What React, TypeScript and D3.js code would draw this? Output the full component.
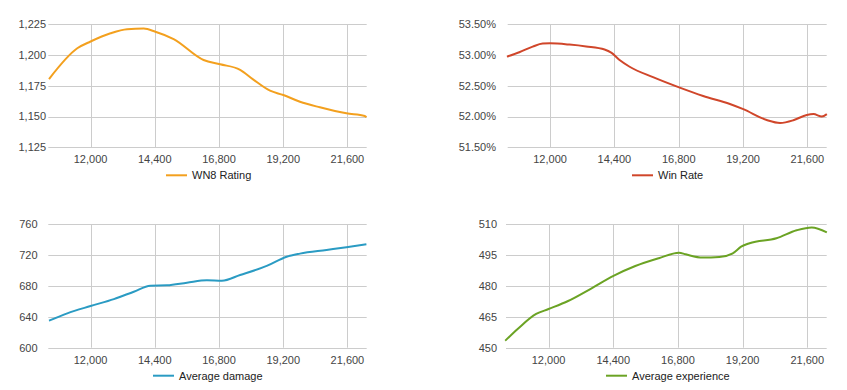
import { useEffect, useRef } from "react";
import * as d3 from "d3";

// battles (x) and values
const wn8X = [10447, 11503, 12000, 12745, 13366, 13987, 14422, 15105, 16223, 16844, 17589, 18086, 18707, 19204, 19825, 20570, 21563, 22247, 22309];
const wn8Y = [1180.5, 1205.5, 1211, 1217.7, 1221, 1221.5, 1219, 1213, 1196, 1192.5, 1188, 1180, 1171, 1167.5, 1162, 1157.5, 1152.6, 1150.5, 1149.5];

const winX = [10391, 10853, 11352, 11726, 12000, 12723, 13347, 14033, 14282, 14594, 14968, 15841, 16838, 17711, 18709, 19208, 20081, 20580, 21078, 21577, 21826, 22138, 22325];
const winY = [52.974, 53.045, 53.137, 53.186, 53.19, 53.17, 53.14, 53.09, 53.04, 52.92, 52.81, 52.64, 52.47, 52.335, 52.205, 52.12, 51.944, 51.896, 51.94, 52.026, 52.04, 52.0, 52.04];

const dmgX = [10447, 11130, 12000, 12870, 13615, 14236, 14857, 15602, 16347, 16906, 17589, 18583, 19328, 19825, 20819, 21563, 22309];
const dmgY = [635, 644.5, 654, 663, 672.6, 680.4, 680.9, 684.3, 687.4, 686.9, 694.3, 706, 718, 722, 726.7, 730.2, 734];

const expX = [10391, 10853, 11539, 12000, 12723, 13596, 14407, 15218, 16091, 16839, 17088, 17711, 18335, 18834, 19145, 19457, 20455, 21203, 21764, 22325];
const expY = [453.4, 459.1, 466.4, 468.8, 472.7, 478.9, 484.9, 489.7, 493.5, 496.2, 495.4, 493.8, 494.1, 495.9, 499.1, 500.8, 503.2, 507.1, 508.5, 506.1];

const xTicks = [12000, 14400, 16800, 19200, 21600];
const wn8Ticks = [1125, 1150, 1175, 1200, 1225];
const winTicks = [51.5, 52, 52.5, 53, 53.5];
const dmgTicks = [600, 640, 680, 720, 760];
const expTicks = [450, 465, 480, 495, 510];

const panels = [
  { name: "WN8 Rating", xs: wn8X, ys: wn8Y, ticks: wn8Ticks, fmt: d3.format(","), color: "#f3a01e",
    left: 48.3, right: 366.7, top: 24.3, bottom: 147.3, labelRight: 46, legendX: 166 },
  { name: "Win Rate", xs: winX, ys: winY, ticks: winTicks, fmt: (v: number) => v.toFixed(2) + "%", color: "#d0462a",
    left: 507.7, right: 826.7, top: 24.3, bottom: 147.3, labelRight: 496, legendX: 632 },
  { name: "Average damage", xs: dmgX, ys: dmgY, ticks: dmgTicks, fmt: d3.format(","), color: "#2a9bc3",
    left: 48.3, right: 366.7, top: 224.3, bottom: 347.7, labelRight: 37.5, legendX: 153 },
  { name: "Average experience", xs: expX, ys: expY, ticks: expTicks, fmt: d3.format(","), color: "#6ba324",
    left: 506, right: 826.7, top: 224.3, bottom: 347.7, labelRight: 497, legendX: 606 },
];

export default function App() {
  const svgRef = useRef<SVGSVGElement>(null);

  useEffect(() => {
    const svg = d3.select(svgRef.current);
    svg.selectAll("*").remove();

    panels.forEach((p) => {
      const x = d3.scaleLinear().domain([10420, 22320]).range([p.left, p.right]);
      const y = d3.scaleLinear().domain([p.ticks[0], p.ticks[p.ticks.length - 1]]).range([p.bottom, p.top]);
      const g = svg.append("g");

      // grid
      g.selectAll(".hg").data(p.ticks).join("line")
        .attr("x1", p.left).attr("x2", p.right)
        .attr("y1", (d) => Math.round(y(d)) + 0.5).attr("y2", (d) => Math.round(y(d)) + 0.5)
        .attr("stroke", "#cccccc");
      g.selectAll(".vg").data(xTicks).join("line")
        .attr("x1", (d) => Math.round(x(d)) + 0.5).attr("x2", (d) => Math.round(x(d)) + 0.5)
        .attr("y1", p.top).attr("y2", p.bottom)
        .attr("stroke", "#cccccc");

      // y labels
      g.selectAll(".yl").data(p.ticks).join("text")
        .attr("x", p.labelRight).attr("y", (d) => y(d))
        .attr("dy", "0.35em").attr("text-anchor", "end")
        .attr("font-family", "Arial, 'Liberation Sans', sans-serif").attr("font-size", 11)
        .attr("fill", "#444").text((d) => p.fmt(d));

      // x labels
      g.selectAll(".xl").data(xTicks).join("text")
        .attr("x", (d) => x(d)).attr("y", p.bottom + 12)
        .attr("dy", "0.35em").attr("text-anchor", "middle")
        .attr("font-family", "Arial, 'Liberation Sans', sans-serif").attr("font-size", 11)
        .attr("fill", "#444").text((d) => d3.format(",")(d));

      const line = d3.line<number>()
        .x((_, i) => x(p.xs[i]))
        .y((d) => y(d))
        .curve(d3.curveMonotoneX);
      g.append("path").datum(p.ys)
        .attr("d", line)
        .attr("fill", "none").attr("stroke", p.color).attr("stroke-width", 2)
        .attr("stroke-linejoin", "round");

      // legend
      const ly = p.bottom + 28;
      g.append("line").attr("x1", p.legendX).attr("x2", p.legendX + 21)
        .attr("y1", ly).attr("y2", ly).attr("stroke", p.color).attr("stroke-width", 2);
      g.append("text").attr("x", p.legendX + 26).attr("y", ly).attr("dy", "0.35em")
        .attr("font-family", "Arial, 'Liberation Sans', sans-serif").attr("font-size", 11)
        .attr("fill", "#222").text(p.name);
    });
  }, []);

  return (
    <svg ref={svgRef} width={847} height={390}
      style={{ position: "absolute", left: 0, top: 0, background: "#fff" }} />
  );
}
